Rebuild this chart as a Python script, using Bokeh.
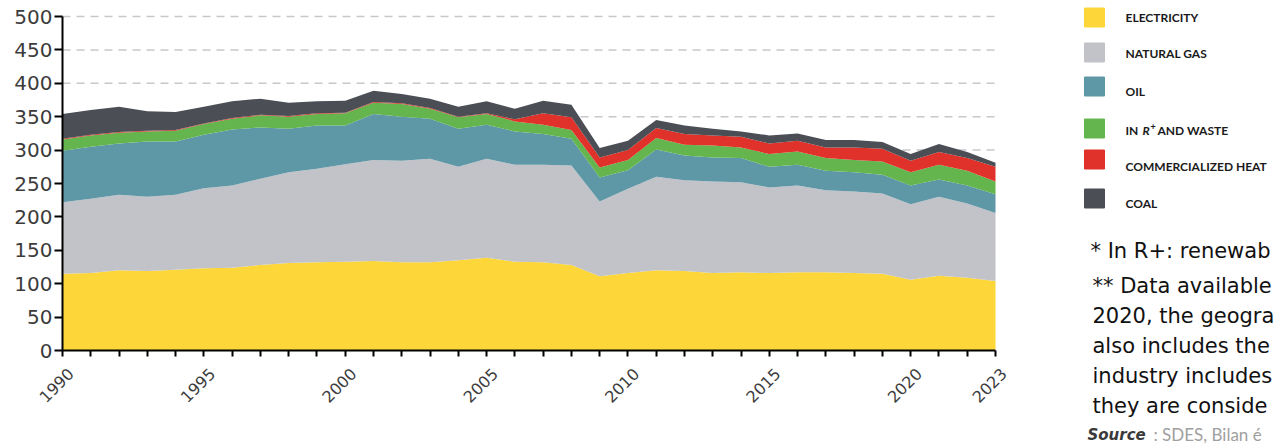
from math import pi

from bokeh.core.properties import value
from bokeh.embed import file_html
from bokeh.models import ColumnDataSource, FixedTicker, Range1d
from bokeh.plotting import figure
from bokeh.resources import INLINE

# Final energy consumption by source (TWh), 1990-2023
years = list(range(1990, 2024))

electricity = [115, 116, 120, 119, 121, 123, 124, 128, 131, 132, 133, 134, 132, 132, 135, 139, 133,
               132, 128, 111, 116, 120, 119, 116, 117, 116, 117, 117, 116, 115, 106, 112, 109, 104]
natural_gas = [107, 111, 113, 111, 112, 120, 123, 129, 136, 140, 146, 151, 152, 155, 140, 148, 145,
               146, 149, 112, 126, 140, 136, 137, 135, 128, 130, 123, 122, 120, 113, 118, 111, 102]
oil = [77, 78, 77, 83, 80, 80, 84, 77, 65, 65, 58, 69, 66, 60, 57, 51, 50,
       46, 40, 36, 28, 41, 37, 36, 36, 31, 31, 29, 29, 28, 28, 26, 27, 28]
renewables_waste = [17, 17, 16, 15, 16, 16, 16, 18, 18, 17, 18, 17, 19, 15, 17, 16, 15,
                    14, 13, 15, 15, 17, 16, 18, 16, 19, 20, 19, 18, 20, 20, 22, 22, 19]
commercial_heat = [1, 1, 1, 1, 1, 1, 1, 1, 1, 1, 1, 1, 1, 1, 1, 1, 3,
                   17, 19, 15, 15, 15, 16, 15, 16, 16, 16, 16, 19, 19, 17, 19, 19, 22]
coal = [37, 37, 38, 29, 27, 25, 25, 24, 20, 18, 18, 17, 14, 14, 15, 18, 16,
        19, 19, 14, 14, 12, 13, 10, 8, 12, 11, 11, 11, 10, 10, 12, 9, 6]

series_names = ["electricity", "natural_gas", "oil", "renewables_waste", "commercial_heat", "coal"]
series_colors = ["#FDD73A", "#C2C3C8", "#5E97A6", "#64B54E", "#E0312A", "#4B4F55"]
legend_labels = ["ELECTRICITY", "NATURAL GAS", "OIL", None, "COMMERCIALIZED HEAT", "COAL"]

y_ticks = list(range(0, 501, 50))
x_labelled = [1990, 1995, 2000, 2005, 2010, 2015, 2020, 2023]

notes = [
    "* In R+: renewab",
    "** Data available",
    "2020, the geogra",
    "also includes the",
    "industry includes",
    "they are conside",
]

source = ColumnDataSource(dict(
    year=years,
    electricity=electricity,
    natural_gas=natural_gas,
    oil=oil,
    renewables_waste=renewables_waste,
    commercial_heat=commercial_heat,
    coal=coal,
))

# where the data region sits on the page (pixels)
AREA_L, AREA_R, AREA_T, AREA_B = 62, 995, 16, 350
PAGE_W, PAGE_H = 1278, 444
Y_MAX = 500


def px_x(px):
    """Page x pixel -> data x."""
    return years[0] + (px - AREA_L) * (years[-1] - years[0]) / (AREA_R - AREA_L)


def px_y(py):
    """Page y pixel -> data y."""
    return (AREA_B - py) * Y_MAX / (AREA_B - AREA_T)


TICK_FONT = "DejaVu Sans"

# the frame covers the whole page so that legend and notes can share it;
# the axes are pinned to the data origin
p = figure(
    width=PAGE_W, height=PAGE_H,
    x_range=Range1d(px_x(0), px_x(PAGE_W)), y_range=Range1d(px_y(PAGE_H), px_y(0)),
    output_backend="svg", toolbar_location=None, min_border=0,
)
p.title.visible = False
p.outline_line_color = None
p.background_fill_color = "white"
p.grid.visible = False

# dashed horizontal guides between the axis and the last year
guide_y = y_ticks[1:]
p.segment(x0=[years[0]] * len(guide_y), x1=[years[-1]] * len(guide_y), y0=guide_y, y1=guide_y,
          line_color="#C8C8C8", line_width=1.5, line_dash="8 6")

p.varea_stack(stackers=series_names, x="year", color=series_colors, source=source)

# y axis
yax = p.yaxis[0]
yax.fixed_location = years[0]
yax.bounds = (0, Y_MAX)
yax.ticker = FixedTicker(ticks=y_ticks)
yax.axis_line_color = "black"
yax.axis_line_width = 2
yax.major_tick_line_color = "black"
yax.major_tick_line_width = 2
yax.major_tick_out = 8
yax.major_tick_in = 0
yax.minor_tick_line_color = None
yax.major_label_text_font = TICK_FONT
yax.major_label_text_font_size = "20px"
yax.major_label_text_color = "#3C3C3C"
yax.major_label_standoff = 2

# x axis: a short tick every year (drawn as minor ticks); year labels drawn as rotated text
xax = p.xaxis[0]
xax.fixed_location = 0
xax.bounds = (years[0], years[-1])
xax.ticker = FixedTicker(ticks=[], minor_ticks=years)
xax.axis_line_color = "black"
xax.axis_line_width = 2
xax.major_tick_line_color = None
xax.minor_tick_line_color = "black"
xax.minor_tick_line_width = 2
xax.minor_tick_out = 6
xax.minor_tick_in = 0

p.text(x=x_labelled, y=[px_y(AREA_B + 16)] * len(x_labelled), text=[str(v) for v in x_labelled],
       angle=pi / 4, text_align="right", text_baseline="top", x_offset=4,
       text_font=value(TICK_FONT), text_font_size="16px", text_color="#3C3C3C")

# legend
swatch_y = [17, 52, 86, 128, 159, 198]
label_y = [17, 53, 91, 130, 166, 203]
p.rect(x=[px_x(1094)] * len(swatch_y), y=[px_y(v) for v in swatch_y],
       width=px_x(1104) - px_x(1084), height=px_y(0) - px_y(19), color=series_colors)

LEG = dict(text_font=value("Lato"), text_font_size="12px", text_font_style="bold",
           text_baseline="middle", text_color="#1A1A1A")
named = [(ly, lbl) for ly, lbl in zip(label_y, legend_labels) if lbl]
p.text(x=[px_x(1125)] * len(named), y=[px_y(n[0]) for n in named], text=[n[1] for n in named], **LEG)

# "IN R+ AND WASTE" with an italic R and a raised plus sign
ry = label_y[3]
p.text(x=[px_x(1125)], y=[px_y(ry)], text=["IN"], **LEG)
p.text(x=[px_x(1142)], y=[px_y(ry)], text=["R"], **{**LEG, "text_font_style": "bold italic"})
p.text(x=[px_x(1150)], y=[px_y(ry - 4)], text=["+"], **{**LEG, "text_font_size": "9px"})
p.text(x=[px_x(1157)], y=[px_y(ry)], text=["AND WASTE"], **LEG)

# notes
note_x = [1090, 1092, 1092, 1092, 1092, 1092]
note_y = [250, 285, 315, 345, 375, 405]
p.text(x=[px_x(v) for v in note_x], y=[px_y(v) for v in note_y], text=notes,
       text_font=value("DejaVu Sans"), text_font_size="21px", text_baseline="alphabetic",
       text_color="#111111")

p.text(x=[px_x(1087)], y=[px_y(434)], text=["Source"], text_font=value("DejaVu Sans"),
       text_font_size="15px", text_font_style="bold italic", text_baseline="alphabetic",
       text_color="#3A3A3A")
p.text(x=[px_x(1153)], y=[px_y(434)], text=[": SDES, Bilan é"], text_font=value("Lato"),
       text_font_size="17px", text_baseline="alphabetic", text_color="#A0A0A0")

open("out.html", "w").write(file_html(p, INLINE))
